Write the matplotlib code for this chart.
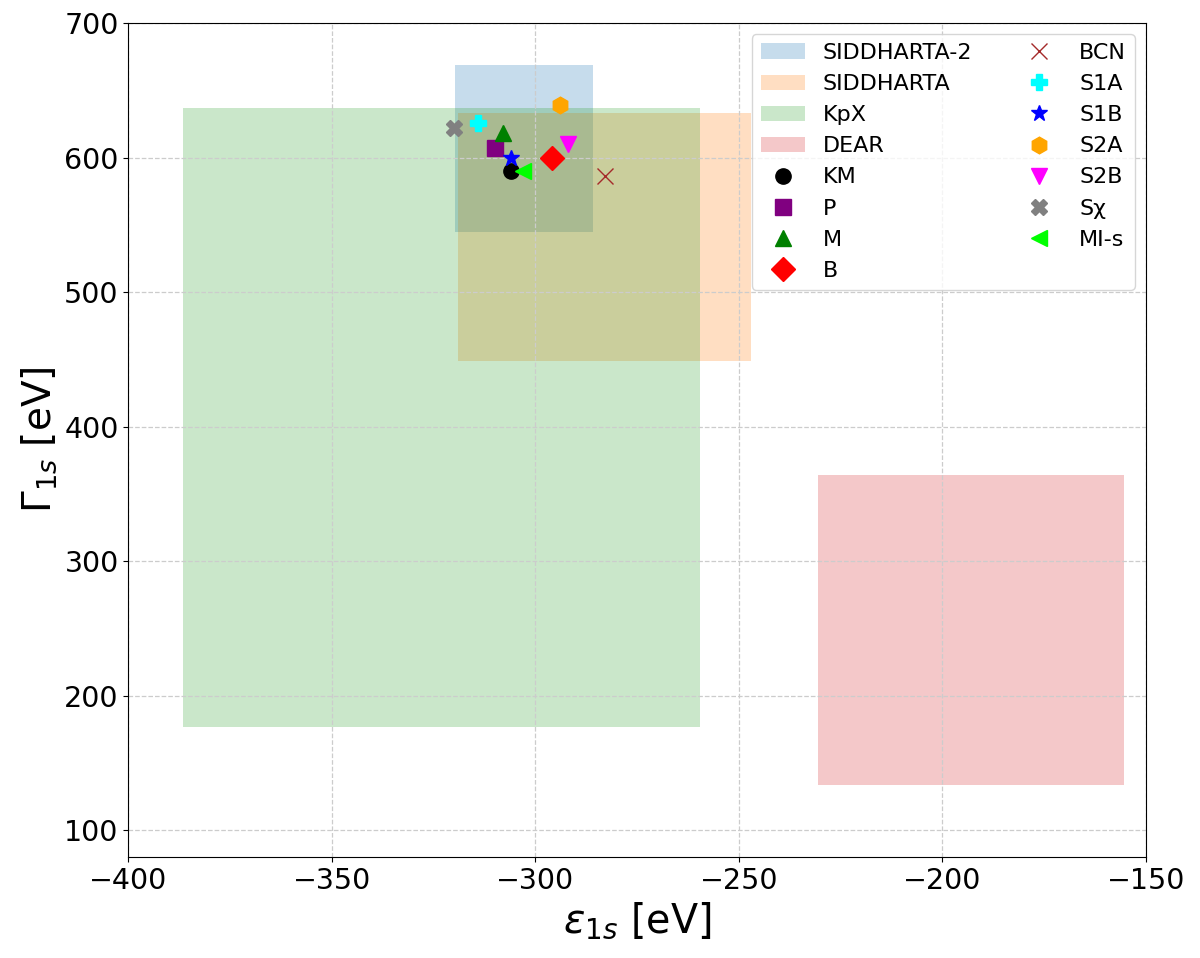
import matplotlib.pyplot as plt
from matplotlib.patches import Rectangle

# experimental boxes: name, centre eps, err eps, centre gamma, err gamma
exp_names = ["SIDDHARTA-2", "SIDDHARTA", "KpX", "DEAR"]
exp_eps = [-302.8, -283.0, -323.0, -193.0]
exp_eps_err = [17.0, 36.0, 63.5, 37.5]
exp_gam = [606.6, 541.0, 407.0, 249.0]
exp_gam_err = [62.0, 92.0, 230.0, 115.0]
exp_colors = ["C0", "C1", "C2", "C3"]

# theory points
th_names = ["KM", "P", "M", "B", "BCN", "S1A", "S1B", "S2A", "S2B", "S\u03c7", "MI-s"]
th_eps = [-306, -310, -308, -296, -283, -314, -306, -294, -292, -320, -303]
th_gam = [590, 607, 618, 600, 586, 626, 600, 639, 610, 622, 590]
th_markers = ["o", "s", "^", "D", "x", "P", "*", "h", "v", "X", "<"]
th_colors = ["black", "purple", "green", "red", "brown", "cyan", "blue",
             "orange", "magenta", "gray", "lime"]
marker_sizes = {"o": 11, "s": 11, "^": 11, "D": 12, "x": 11, "P": 12,
                "*": 12, "h": 12, "v": 11, "X": 12, "<": 11}

fig, ax = plt.subplots(figsize=(12, 9.58), dpi=100)
fig.subplots_adjust(left=0.107, right=0.955, top=0.976, bottom=0.105)

handles = []
for name, e, de, g, dg, c in zip(exp_names, exp_eps, exp_eps_err,
                                 exp_gam, exp_gam_err, exp_colors):
    r = Rectangle((e - de, g - dg), 2 * de, 2 * dg, color=c, alpha=0.25,
                  lw=0, label=name)
    ax.add_patch(r)
    handles.append(r)

for name, e, g, m, c in zip(th_names, th_eps, th_gam, th_markers, th_colors):
    h, = ax.plot(e, g, ls="none", marker=m, color=c, markersize=marker_sizes[m],
                 label=name, zorder=5)
    handles.append(h)

ax.set_xlim(-400, -150)
ax.set_ylim(80, 700)
ax.grid(True, ls="--", color="#cccccc", lw=0.9)
ax.tick_params(labelsize=20.5)
ax.set_xlabel(r"$\epsilon_{1s}$ [eV]", fontsize=28.5)
ax.set_ylabel(r"$\Gamma_{1s}$ [eV]", fontsize=28)
ax.legend(handles=handles, ncol=2, loc="upper right", fontsize=16)

fig.savefig("out.png")
